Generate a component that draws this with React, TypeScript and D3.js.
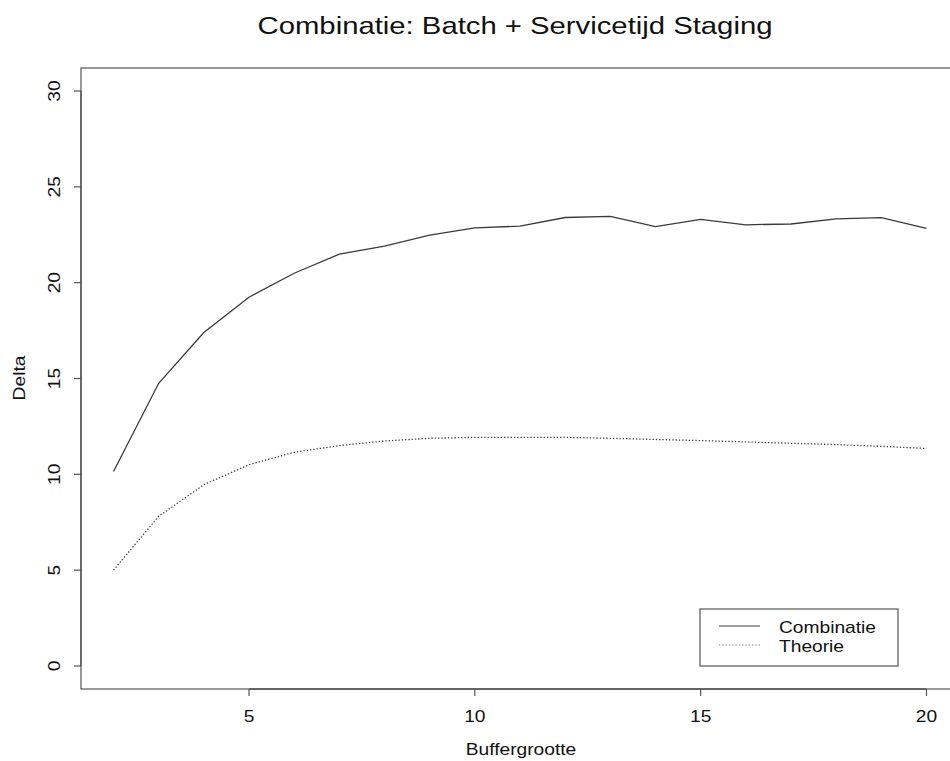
import React from "react";
import * as d3 from "d3";

// Buffer sizes on the x axis
const bufferSizes = [2, 3, 4, 5, 6, 7, 8, 9, 10, 11, 12, 13, 14, 15, 16, 17, 18, 19, 20];
// Measured delta for the combined batch + staging service time
const combinatie = [10.15, 14.75, 17.4, 19.24, 20.49, 21.49, 21.91, 22.48, 22.86, 22.95, 23.4, 23.46, 22.92, 23.3, 23.02, 23.06, 23.33, 23.39, 22.83];
// Theoretical delta
const theorie = [5.0, 7.81, 9.46, 10.5, 11.15, 11.5, 11.74, 11.88, 11.93, 11.93, 11.93, 11.88, 11.82, 11.76, 11.69, 11.62, 11.55, 11.46, 11.35];
const xTicks = [5, 10, 15, 20];
const yTicks = [0, 5, 10, 15, 20, 25, 30];
const legendLabels = ["Combinatie", "Theorie"];

const W = 950;
const H = 761;
const FONT = "'Liberation Sans', Arial, Helvetica, sans-serif";
const STRETCH = 1.2;

type TProps = {
  x: number;
  y: number;
  size: number;
  anchor?: "start" | "middle" | "end";
  rotate?: number;
  children: React.ReactNode;
};

// Text drawn with a slightly wider set width, as in the R device output
function T({ x, y, size, anchor = "middle", rotate = 0, children }: TProps) {
  return (
    <g transform={`translate(${x},${y}) rotate(${rotate}) scale(${STRETCH},1)`}>
      <text x={0} y={0} fontSize={size} textAnchor={anchor} fill="#111">
        {children}
      </text>
    </g>
  );
}

export default function App() {
  const left = 81;
  const right = 959;
  const top = 68;
  const bottom = 689;

  // R-style 4% padding around the data range
  const x = d3.scaleLinear().domain([1.28, 20.72]).range([left, right]);
  const y = d3.scaleLinear().domain([-1.2, 31.2]).range([bottom, top]);

  const line = d3
    .line<number>()
    .x((_, i) => x(bufferSizes[i]))
    .y((d) => y(d));

  const lineColor = "#3a3a3a";
  const axisColor = "#555";

  return (
    <svg
      width={W}
      height={H}
      style={{ position: "absolute", left: 0, top: 0, background: "#fff" }}
      fontFamily={FONT}
    >
      <rect x={0} y={0} width={W} height={H} fill="#fff" />
      <T x={515} y={34} size={24.4}>
        Combinatie: Batch + Servicetijd Staging
      </T>

      {/* plot box */}
      <rect x={left} y={top} width={right - left} height={bottom - top} fill="none" stroke={axisColor} strokeWidth={1.2} />

      {/* x axis */}
      <line x1={x(xTicks[0])} x2={x(xTicks[xTicks.length - 1])} y1={bottom} y2={bottom} stroke={axisColor} strokeWidth={1.4} />
      {xTicks.map((t) => (
        <g key={"x" + t}>
          <line x1={x(t)} x2={x(t)} y1={bottom} y2={bottom + 7} stroke={axisColor} strokeWidth={1.2} />
          <T x={x(t)} y={722} size={16}>
            {t}
          </T>
        </g>
      ))}
      <T x={521} y={755} size={16}>
        Buffergrootte
      </T>

      {/* y axis */}
      <line x1={left} x2={left} y1={y(yTicks[0])} y2={y(yTicks[yTicks.length - 1])} stroke={axisColor} strokeWidth={1.4} />
      {yTicks.map((t) => (
        <g key={"y" + t}>
          <line x1={left - 7} x2={left} y1={y(t)} y2={y(t)} stroke={axisColor} strokeWidth={1.2} />
          <T x={60} y={y(t)} size={16} rotate={-90}>
            {t}
          </T>
        </g>
      ))}
      <T x={25} y={378} size={16} rotate={-90}>
        Delta
      </T>

      {/* series */}
      <path d={line(combinatie) || ""} fill="none" stroke={lineColor} strokeWidth={1.3} />
      <path d={line(theorie) || ""} fill="none" stroke={lineColor} strokeWidth={1.3} strokeDasharray="1.3,2" />

      {/* legend */}
      <rect x={700} y={609} width={198} height={57} fill="#fff" stroke={axisColor} strokeWidth={1.2} />
      <line x1={719} x2={760} y1={626} y2={626} stroke={lineColor} strokeWidth={1.2} />
      <line x1={719} x2={760} y1={645} y2={645} stroke="#777" strokeWidth={1.2} strokeDasharray="1.3,2" />
      <T x={779} y={633} size={16} anchor="start">
        {legendLabels[0]}
      </T>
      <T x={779} y={652} size={16} anchor="start">
        {legendLabels[1]}
      </T>
    </svg>
  );
}
